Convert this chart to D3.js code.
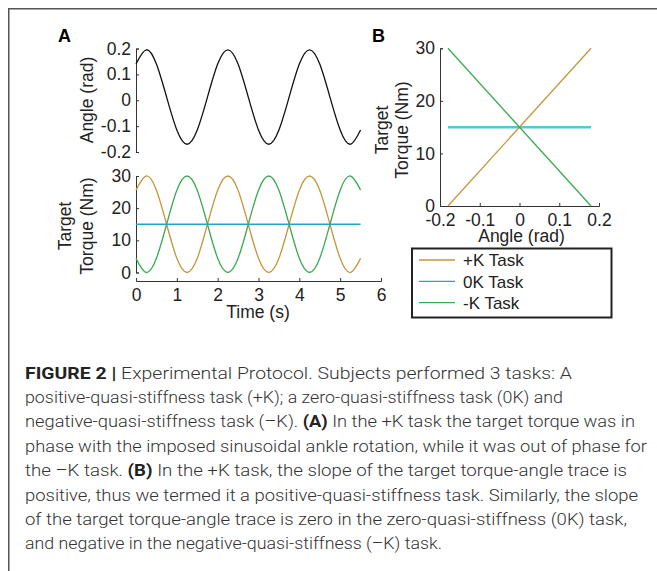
<!DOCTYPE html>
<html>
<head>
<meta charset="utf-8">
<script src="https://cdn.jsdelivr.net/npm/d3@7"></script>
<style>
  body { margin: 0; background: #fff; }
  svg { display: block; }
  .axis path, .axis line { stroke: #333; stroke-width: 1; }
  .axis text { font-family: "Liberation Sans", Arial, sans-serif; font-size: 17.5px; fill: #222; }
  .lab { font-family: "Liberation Sans", Arial, sans-serif; font-size: 17.5px; fill: #222; }
  .cap { font-family: Roboto, "Liberation Sans", sans-serif; font-size: 17px; font-weight: 300; fill: #333; }
</style>
</head>
<body>
<script>
var W = 657, H = 571;

var time = [0, 0.25, 0.5, 0.75, 1, 1.25, 1.5, 1.75, 2, 2.25, 2.5, 2.75, 3, 3.25, 3.5, 3.75, 4, 4.25, 4.5, 4.75, 5, 5.25, 5.5];
var angle = [0.14, 0.195, 0.14, 0.012, -0.115, -0.17, -0.115, 0.012, 0.14, 0.195, 0.14, 0.012, -0.115, -0.17, -0.115, 0.012, 0.14, 0.195, 0.14, 0.012, -0.115, -0.17, -0.115];
var torquePos = [25.6, 30, 25.6, 15, 4.4, 0, 4.4, 15, 25.6, 30, 25.6, 15, 4.4, 0, 4.4, 15, 25.6, 30, 25.6, 15, 4.4, 0, 4.4];
var torqueZero = [15, 15, 15, 15, 15, 15, 15, 15, 15, 15, 15, 15, 15, 15, 15, 15, 15, 15, 15, 15, 15, 15, 15];
var torqueNeg = [4.4, 0, 4.4, 15, 25.6, 30, 25.6, 15, 4.4, 0, 4.4, 15, 25.6, 30, 25.6, 15, 4.4, 0, 4.4, 15, 25.6, 30, 25.6];

// panel B: torque vs angle
var angleB = [-0.18, 0.18];
var torqueBPos = [0, 30];
var torqueBZero = [15, 15];
var torqueBNeg = [30, 0];

var timeTicks = [0, 1, 2, 3, 4, 5, 6];
var angleTicks = [-0.2, -0.1, 0, 0.1, 0.2];
var angleTickLabels = ["-0.2", "-0.1", "0", "0.1", "0.2"];
var torqueTicks = [0, 10, 20, 30];

var tasks = ["+K Task", "0K Task", "-K Task"];
var taskColors = ["#c4963c", "#1fa6cc", "#3aaa52"];

var caption = [
  [["FIGURE 2 | ", true], ["Experimental Protocol. Subjects performed 3 tasks: A", false]],
  [["positive-quasi-stiffness task (+K); a zero-quasi-stiffness task (0K) and", false]],
  [["negative-quasi-stiffness task (\u2013K). ", false], ["(A)", true], [" In the +K task the target torque was in", false]],
  [["phase with the imposed sinusoidal ankle rotation, while it was out of phase for", false]],
  [["the \u2013K task. ", false], ["(B)", true], [" In the +K task, the slope of the target torque-angle trace is", false]],
  [["positive, thus we termed it a positive-quasi-stiffness task. Similarly, the slope", false]],
  [["of the target torque-angle trace is zero in the zero-quasi-stiffness (0K) task,", false]],
  [["and negative in the negative-quasi-stiffness (\u2013K) task.", false]]
];
var captionWidths = [547, 538, 610, 622, 602, 613, 602, 417];

function angleFmt(d) {
  return angleTickLabels[angleTicks.indexOf(d)];
}

var svg = d3.select("body").append("svg")
  .attr("width", W)
  .attr("height", H);

// frame
svg.append("path")
  .attr("d", "M8.75," + H + "V8.75H" + W)
  .attr("fill", "none")
  .attr("stroke", "#555")
  .attr("stroke-width", 1.5);

// ---- panel A ----
var x = d3.scaleLinear().domain([0, 6]).range([136, 381]);
var yAng = d3.scaleLinear().domain([-0.2, 0.2]).range([152, 48.5]);
var yTq = d3.scaleLinear().domain([0, 30]).range([272.5, 176]);

svg.append("g").attr("class", "axis")
  .attr("transform", "translate(136,0)")
  .call(d3.axisLeft(yAng).tickValues(angleTicks).tickSize(-3).tickPadding(5).tickFormat(angleFmt));

svg.append("g").attr("class", "axis")
  .attr("transform", "translate(136,0)")
  .call(d3.axisLeft(yTq).tickValues(torqueTicks).tickSize(-3).tickPadding(5).tickFormat(d3.format("d")));

svg.append("g").attr("class", "axis")
  .attr("transform", "translate(0,281)")
  .call(d3.axisBottom(x).tickValues(timeTicks).tickSize(-3).tickPadding(8).tickFormat(d3.format("d")));

var lineAng = d3.line()
  .x(function(d, i) { return x(time[i]); })
  .y(function(d) { return yAng(d); })
  .curve(d3.curveNatural);

var lineTq = d3.line()
  .x(function(d, i) { return x(time[i]); })
  .y(function(d) { return yTq(d); })
  .curve(d3.curveNatural);

svg.append("path").datum(angle)
  .attr("d", lineAng)
  .attr("fill", "none").attr("stroke", "#111").attr("stroke-width", 1.3);

var seriesA = [torquePos, torqueNeg, torqueZero];
var seriesColors = [taskColors[0], taskColors[2], taskColors[1]];
seriesA.forEach(function(s, k) {
  svg.append("path").datum(s)
    .attr("d", lineTq)
    .attr("fill", "none")
    .attr("stroke", seriesColors[k])
    .attr("stroke-width", k == 2 ? 1.6 : 1.3);
});

svg.append("text").attr("class", "lab")
  .attr("transform", "translate(92.5,100) rotate(-90)")
  .attr("text-anchor", "middle")
  .text("Angle (rad)");
svg.append("text").attr("class", "lab")
  .attr("transform", "translate(71,226) rotate(-90)")
  .attr("text-anchor", "middle")
  .text("Target");
svg.append("text").attr("class", "lab")
  .attr("transform", "translate(93,226) rotate(-90)")
  .attr("text-anchor", "middle")
  .text("Torque (Nm)");
svg.append("text").attr("class", "lab")
  .attr("x", 258).attr("y", 318)
  .attr("text-anchor", "middle")
  .text("Time (s)");

// ---- panel B ----
var xB = d3.scaleLinear().domain([-0.2, 0.2]).range([440, 599]);
var yB = d3.scaleLinear().domain([0, 30]).range([206, 48.3]);

svg.append("g").attr("class", "axis")
  .attr("transform", "translate(440,0)")
  .call(d3.axisLeft(yB).tickValues(torqueTicks).tickSize(-3).tickPadding(5).tickFormat(d3.format("d")));

svg.append("g").attr("class", "axis")
  .attr("transform", "translate(0,206)")
  .call(d3.axisBottom(xB).tickValues(angleTicks).tickSize(-3).tickPadding(7.5).tickFormat(angleFmt));

svg.selectAll(".axis .domain").attr("fill", "none");

var lineB = d3.line()
  .x(function(d, i) { return xB(angleB[i]); })
  .y(function(d) { return yB(d); });

svg.append("path").datum(torqueBZero)
  .attr("d", lineB).attr("fill", "none")
  .attr("stroke", "#5cc3d3").attr("stroke-width", 2.5);
svg.append("path").datum(torqueBPos)
  .attr("d", lineB).attr("fill", "none")
  .attr("stroke", taskColors[0]).attr("stroke-width", 1.3);
svg.append("path").datum(torqueBNeg)
  .attr("d", lineB).attr("fill", "none")
  .attr("stroke", taskColors[2]).attr("stroke-width", 1.3);

svg.append("text").attr("class", "lab")
  .attr("transform", "translate(388,130) rotate(-90)")
  .attr("text-anchor", "middle")
  .text("Target");
svg.append("text").attr("class", "lab")
  .attr("transform", "translate(407.5,130) rotate(-90)")
  .attr("text-anchor", "middle")
  .text("Torque (Nm)");
svg.append("text").attr("class", "lab")
  .attr("x", 521.5).attr("y", 242)
  .attr("text-anchor", "middle")
  .text("Angle (rad)");

// legend
var legend = svg.append("g");
legend.append("rect")
  .attr("x", 412).attr("y", 248.5)
  .attr("width", 199.5).attr("height", 69)
  .attr("fill", "#fff").attr("stroke", "#222").attr("stroke-width", 2);
tasks.forEach(function(t, i) {
  var cy = 260 + i * 21.3;
  legend.append("line")
    .attr("x1", 419).attr("x2", 455)
    .attr("y1", cy).attr("y2", cy)
    .attr("stroke", taskColors[i]).attr("stroke-width", 1.3);
  legend.append("text").attr("class", "lab")
    .attr("x", 463).attr("y", cy + 6.2)
    .style("font-size", "17px")
    .text(t);
});

// panel letters
svg.append("text").attr("x", 58).attr("y", 41.7)
  .style("font", "bold 18px 'Liberation Sans', Arial, sans-serif")
  .text("A");
svg.append("text").attr("x", 372).attr("y", 41.7)
  .style("font", "bold 18px 'Liberation Sans', Arial, sans-serif")
  .text("B");

// caption
caption.forEach(function(line, i) {
  var t = svg.append("text").attr("class", "cap")
    .attr("x", 25).attr("y", 378.5 + i * 24.4)
    .attr("textLength", captionWidths[i])
    .attr("lengthAdjust", "spacingAndGlyphs");
  line.forEach(function(seg) {
    t.append("tspan")
      .style("font-weight", seg[1] ? "bold" : null)
      .style("fill", seg[1] ? "#222" : null)
      .text(seg[0]);
  });
});
</script>
</body>
</html>
